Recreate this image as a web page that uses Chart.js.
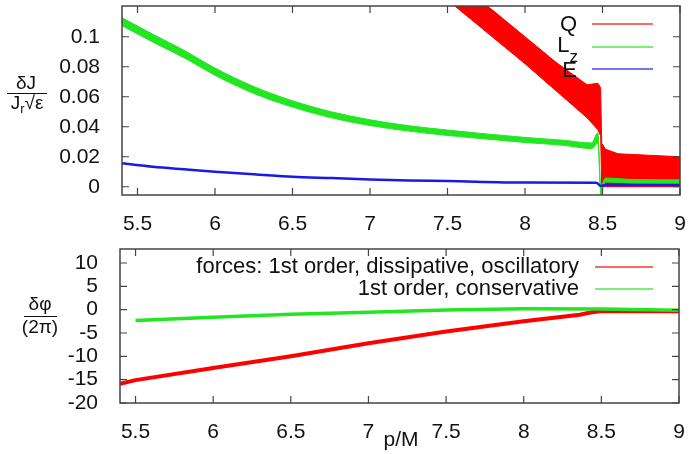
<!DOCTYPE html>
<html>
<head>
<meta charset="utf-8">
<script src="https://cdn.jsdelivr.net/npm/chart.js@4.4.1/dist/chart.umd.min.js"></script>
<style>
  body { margin: 0; background: #fff; }
  #top { position: absolute; left: 0; top: 0; width: 691px; height: 230px; }
  #bot { position: absolute; left: 0; top: 230px; width: 691px; height: 224px; }
</style>
</head>
<body>
<div id="top"><canvas id="jChart"></canvas></div>
<div id="bot"><canvas id="phiChart"></canvas></div>
<script>
// ---- data ----
const xTicks = [5.5, 6, 6.5, 7, 7.5, 8, 8.5, 9];
const jTicks = [0, 0.02, 0.04, 0.06, 0.08, 0.1];
const phiTicks = [-20, -15, -10, -5, 0, 5, 10];

// Q : noisy band (upper / lower envelope)
const qX  = [7.2, 7.4, 7.6, 7.8, 8.0, 8.2, 8.4, 8.47, 8.488, 8.495, 8.52, 8.6, 8.8, 9.0];
const qHi = [0.167, 0.150, 0.133, 0.117, 0.100, 0.083, 0.068, 0.069, 0.066, 0.029, 0.025, 0.022, 0.021, 0.020];
const qLo = [0.151, 0.133, 0.116, 0.099, 0.082, 0.064, 0.046, 0.038, 0.034, 0.000, 0.000, 0.000, 0.000, 0.000];

// Lz : band
const lzX  = [5.4, 5.6, 5.8, 6.0, 6.25, 6.5, 6.75, 7.0, 7.25, 7.5, 7.75, 8.0, 8.25, 8.43, 8.47, 8.49, 8.5, 8.52, 8.7, 9.0];
const lzHi = [0.1127, 0.1016, 0.0910, 0.0791, 0.0668, 0.0573, 0.0500, 0.0446, 0.0407, 0.0378, 0.0352, 0.0329, 0.0310, 0.0292, 0.0360, -0.002, 0.002, 0.0058, 0.0048, 0.0046];
const lzLo = [0.1073, 0.0964, 0.0860, 0.0743, 0.0622, 0.0531, 0.0460, 0.0408, 0.0371, 0.0342, 0.0318, 0.0295, 0.0276, 0.0254, 0.0290, -0.006, -0.002, 0.0032, 0.0024, 0.0022];

// E : thin line
const eX = [5.4, 5.6, 5.8, 6.0, 6.25, 6.5, 6.75, 7.0, 7.25, 7.5, 8.0, 8.46, 8.49, 8.52, 9.0];
const eV = [0.0156, 0.0133, 0.0116, 0.0100, 0.0084, 0.0067, 0.0058, 0.0049, 0.0042, 0.0038, 0.0028, 0.0027, 0.0005, 0.0012, 0.0011];

// delta phi / 2pi
const dissX = [5.4, 5.5, 6.0, 6.5, 7.0, 7.5, 8.0, 8.36, 8.43, 8.5, 9.0];
const dissV = [-15.9, -15.1, -12.5, -10.0, -7.2, -4.7, -2.5, -1.1, -0.6, -0.3, -0.35];
const consX = [5.5, 6.0, 6.5, 7.0, 7.5, 8.0, 8.5, 9.0];
const consV = [-2.3, -1.6, -1.0, -0.55, -0.07, 0.2, 0.15, -0.15];

const RED = '#ff0000', GREEN = '#22e622', BLUE = '#1a1ae6';
const FONT = "'Liberation Sans', Arial, sans-serif";

Chart.defaults.font.family = FONT;
Chart.defaults.color = '#111';

const pts = (xs, ys) => xs.map((x, i) => ({ x: x, y: ys[i] }));
const setTicks = arr => s => { s.ticks = arr.map(v => ({ value: v })); };
const fitX = h => s => { s.height = h; s.paddingLeft = 0; s.paddingRight = 0; };
const fitY = w => s => { s.width = w; s.paddingTop = 0; s.paddingBottom = 0; };

// gnuplot-style box with inward ticks on all four sides
const frame = {
  id: 'frame',
  afterDraw(chart) {
    const { ctx, chartArea: a, scales } = chart;
    ctx.save();
    ctx.strokeStyle = '#444';
    ctx.lineWidth = 1.2;
    ctx.beginPath();
    scales.x.ticks.forEach(t => {
      const p = scales.x.getPixelForValue(t.value);
      ctx.moveTo(p, a.bottom); ctx.lineTo(p, a.bottom - 7);
      ctx.moveTo(p, a.top); ctx.lineTo(p, a.top + 7);
    });
    scales.y.ticks.forEach(t => {
      const p = scales.y.getPixelForValue(t.value);
      ctx.moveTo(a.left, p); ctx.lineTo(a.left + 7, p);
      ctx.moveTo(a.right, p); ctx.lineTo(a.right - 7, p);
    });
    ctx.stroke();
    ctx.lineWidth = 1.5;
    ctx.strokeRect(a.left, a.top, a.right - a.left, a.bottom - a.top);
    ctx.restore();
  }
};

function keyLine(ctx, y, color, x0, x1) {
  ctx.save();
  ctx.strokeStyle = color;
  ctx.globalAlpha = 0.6;
  ctx.lineWidth = 2;
  ctx.beginPath();
  ctx.moveTo(x0, y); ctx.lineTo(x1, y);
  ctx.stroke();
  ctx.restore();
}

const axisTicks = { padding: 9, font: { size: 21 }, color: '#111', autoSkip: false, maxRotation: 0, callback: v => String(v) };

// ---- top panel ----
const jLabels = {
  id: 'jLabels',
  afterDraw(chart) {
    const ctx = chart.ctx;
    ctx.save();
    ctx.fillStyle = '#111';
    ctx.textBaseline = 'middle';
    // y label: dJ / (J_r sqrt(eps))
    ctx.font = '19px ' + FONT;
    ctx.textAlign = 'center';
    ctx.fillText('δJ', 26, 84);
    ctx.strokeStyle = '#111'; ctx.lineWidth = 1;
    ctx.beginPath(); ctx.moveTo(7, 93.5); ctx.lineTo(47, 93.5); ctx.stroke();
    ctx.textAlign = 'left';
    const wJ = ctx.measureText('J').width;
    ctx.font = '13px ' + FONT;
    const wr = ctx.measureText('r').width;
    ctx.font = '19px ' + FONT;
    const wS = ctx.measureText('√ε').width;
    let x = 27 - (wJ + wr + wS) / 2;
    ctx.fillText('J', x, 104);
    ctx.font = '13px ' + FONT;
    ctx.fillText('r', x + wJ, 109);
    ctx.font = '19px ' + FONT;
    ctx.fillText('√ε', x + wJ + wr, 104);

    // key
    ctx.font = '22px ' + FONT;
    ctx.textAlign = 'right';
    ctx.fillText('Q', 577, 25);
    ctx.font = '17px ' + FONT;
    const wz = ctx.measureText('z').width;
    ctx.fillText('z', 578, 57);
    ctx.font = '22px ' + FONT;
    ctx.fillText('L', 578 - wz, 46);
    ctx.fillText('E', 577, 71);
    keyLine(ctx, 24, RED, 592, 653);
    keyLine(ctx, 47, GREEN, 592, 653);
    keyLine(ctx, 69, BLUE, 592, 653);
    ctx.restore();
  }
};

new Chart(document.getElementById('jChart'), {
  type: 'line',
  data: {
    datasets: [
      { label: 'E', data: pts(eX, eV), borderColor: BLUE, borderWidth: 2.5, pointRadius: 0, fill: false, order: 0, clip: 0, cubicInterpolationMode: 'monotone' },
      { label: 'Lz lo', data: pts(lzX, lzLo), borderColor: GREEN, borderWidth: 1, pointRadius: 0, fill: false, order: 1, clip: 0, cubicInterpolationMode: 'monotone' },
      { label: 'Lz', data: pts(lzX, lzHi), borderColor: GREEN, backgroundColor: GREEN, borderWidth: 1, pointRadius: 0, fill: '-1', order: 1, clip: 0, cubicInterpolationMode: 'monotone' },
      { label: 'Q lo', data: pts(qX, qLo), borderColor: RED, borderWidth: 1, pointRadius: 0, fill: false, order: 2, clip: 0 },
      { label: 'Q', data: pts(qX, qHi), borderColor: RED, backgroundColor: RED, borderWidth: 1, pointRadius: 0, fill: '-1', order: 2, clip: 0 }
    ]
  },
  options: {
    responsive: true,
    maintainAspectRatio: false,
    animation: false,
    layout: { padding: { top: 6, right: 11, left: 0, bottom: 0 } },
    plugins: { legend: { display: false }, tooltip: { enabled: false } },
    scales: {
      x: {
        type: 'linear', min: 5.4, max: 9,
        afterBuildTicks: setTicks(xTicks),
        afterFit: fitX(35),
        grid: { display: false }, border: { display: false },
        ticks: axisTicks
      },
      y: {
        type: 'linear', min: -0.0055, max: 0.1205,
        afterBuildTicks: setTicks(jTicks),
        afterFit: fitY(122),
        grid: { display: false }, border: { display: false },
        ticks: Object.assign({}, axisTicks, { padding: 14 })
      }
    }
  },
  plugins: [frame, jLabels]
});

// ---- bottom panel ----
const phiLabels = {
  id: 'phiLabels',
  afterDraw(chart) {
    const ctx = chart.ctx;
    ctx.save();
    ctx.fillStyle = '#111';
    ctx.textBaseline = 'middle';
    ctx.textAlign = 'center';
    ctx.font = '19px ' + FONT;
    ctx.fillText('δφ', 40, 75);
    ctx.strokeStyle = '#111'; ctx.lineWidth = 1;
    ctx.beginPath(); ctx.moveTo(24, 86.5); ctx.lineTo(57, 86.5); ctx.stroke();
    ctx.fillText('(2π)', 40, 98);
    ctx.font = '21px ' + FONT;
    ctx.fillText('p/M', 401, 210);

    ctx.textAlign = 'right';
    ctx.font = '22px ' + FONT;
    ctx.fillText('forces: 1st order, dissipative, oscillatory', 579, 37);
    ctx.fillText('1st order, conservative', 579, 59);
    keyLine(ctx, 37, RED, 595, 653);
    keyLine(ctx, 59, GREEN, 595, 653);
    ctx.restore();
  }
};

new Chart(document.getElementById('phiChart'), {
  type: 'line',
  data: {
    datasets: [
      { label: '1st order, dissipative, oscillatory', data: pts(dissX, dissV), borderColor: RED, borderWidth: 4, pointRadius: 0, fill: false, order: 1 },
      { label: '1st order, conservative', data: pts(consX, consV), borderColor: GREEN, borderWidth: 3.5, pointRadius: 0, fill: false, order: 0 }
    ]
  },
  options: {
    responsive: true,
    maintainAspectRatio: false,
    animation: false,
    layout: { padding: { top: 19, right: 12, left: 0, bottom: 0 } },
    plugins: { legend: { display: false }, tooltip: { enabled: false } },
    scales: {
      x: {
        type: 'linear', min: 5.4, max: 9,
        afterBuildTicks: setTicks(xTicks),
        afterFit: fitX(51),
        grid: { display: false }, border: { display: false },
        ticks: axisTicks
      },
      y: {
        type: 'linear', min: -20, max: 13,
        afterBuildTicks: setTicks(phiTicks),
        afterFit: fitY(120),
        grid: { display: false }, border: { display: false },
        ticks: Object.assign({}, axisTicks, { padding: 14 })
      }
    }
  },
  plugins: [frame, phiLabels]
});
</script>
</body>
</html>
